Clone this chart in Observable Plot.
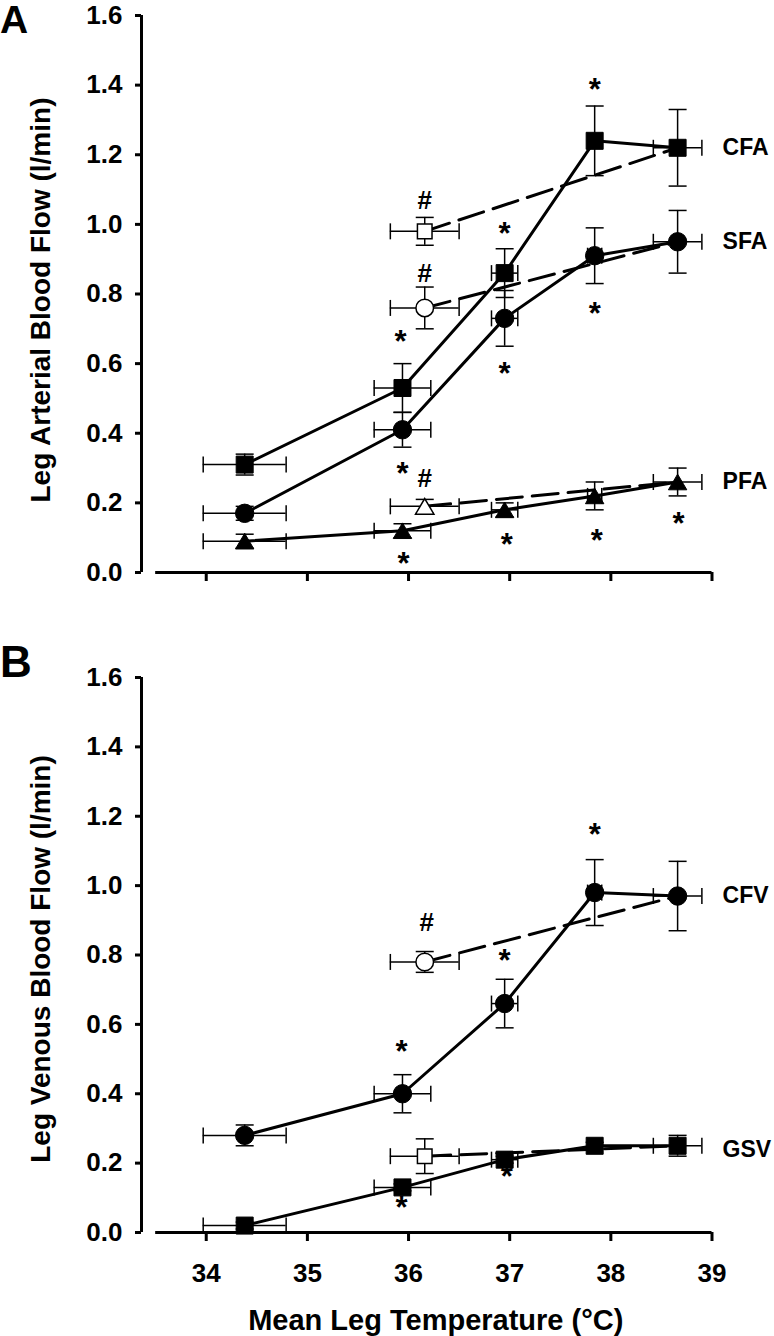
<!DOCTYPE html>
<html><head><meta charset="utf-8">
<script src="https://cdn.jsdelivr.net/npm/d3@7"></script>
<script src="https://cdn.jsdelivr.net/npm/@observablehq/plot@0.6"></script>
<style>
body{margin:0;background:#fff;}
#fig{position:relative;width:774px;height:1336px;background:#fff;}
#fig svg{display:block;}
.letter{position:absolute;left:0;font-family:"Liberation Sans",Arial,sans-serif;font-weight:bold;line-height:1;color:#000;}
</style></head><body>
<div id="fig">
  <div id="pa"></div>
  <div id="pb"></div>
  <div class="letter" style="top:0px;font-size:39px">A</div>
  <div class="letter" style="top:640px;font-size:44px">B</div>
</div>
<script>
// ---------- data ----------
const temps    = [34.38, 35.94, 36.95, 37.84, 38.66];   // mean leg temperature (°C)
const tempErr  = [0.41, 0.28, 0.13, 0.07, 0.24];
const openTemp = 36.16, openTempErr = 0.34;              // open-symbol condition

const cfa = [0.31, 0.53, 0.86, 1.24, 1.22], cfaErr = [0.03, 0.07, 0.07, 0.10, 0.11];
const cfaOpen = 0.98, cfaOpenErr = 0.04;
const sfa = [0.17, 0.41, 0.73, 0.91, 0.95], sfaErr = [0.02, 0.05, 0.08, 0.08, 0.09];
const sfaOpen = 0.76, sfaOpenErr = 0.06;
const pfa = [0.09, 0.12, 0.18, 0.22, 0.26], pfaErr = [0.02, 0.02, 0.02, 0.04, 0.04];
const pfaOpen = 0.19, pfaOpenErr = 0.02;

const cfv = [0.28, 0.40, 0.66, 0.98, 0.97], cfvErr = [0.03, 0.055, 0.07, 0.095, 0.10];
const cfvOpen = 0.78, cfvOpenErr = 0.03;
const gsv = [0.02, 0.13, 0.21, 0.25, 0.25], gsvErr = [0.01, 0.01, 0.01, 0.01, 0.03];
const gsvOpen = 0.22, gsvOpenErr = 0.05;

const xTicks = [34, 35, 36, 37, 38, 39];
const yTicks = [0, 0.2, 0.4, 0.6, 0.8, 1.0, 1.2, 1.4, 1.6];
const xDomain = [33.36, 39];
const xAxisStart = 33.5;
const yDomain = [0, 1.6];

const annotA = [
  {x: 37.84, y: 1.405, s: "*"}, {x: 36.16, y: 1.069, s: "#"}, {x: 36.95, y: 0.991, s: "*"},
  {x: 36.16, y: 0.859, s: "#"}, {x: 37.84, y: 0.761, s: "*"}, {x: 35.92, y: 0.681, s: "*"},
  {x: 36.95, y: 0.589, s: "*"}, {x: 35.94, y: 0.302, s: "*"}, {x: 36.16, y: 0.270, s: "#"},
  {x: 38.67, y: 0.158, s: "*"}, {x: 37.86, y: 0.109, s: "*"}, {x: 36.97, y: 0.098, s: "*"},
  {x: 35.95, y: 0.043, s: "*"}
];
const annotB = [
  {x: 36.18, y: 0.894, s: "#"}, {x: 37.84, y: 1.167, s: "*"}, {x: 36.95, y: 0.804, s: "*"},
  {x: 35.93, y: 0.539, s: "*"}, {x: 35.93, y: 0.092, s: "*"}, {x: 36.97, y: 0.179, s: "*"}
];

// ---------- symbols ----------
const rOf = s => Math.sqrt(s / Math.PI);
const hcap = {draw(c, s) { const r = rOf(s); c.moveTo(-r, 0); c.lineTo(r, 0); }};
const vcap = {draw(c, s) { const r = rOf(s); c.moveTo(0, -r); c.lineTo(0, r); }};
const sq   = {draw(c, s) { const r = rOf(s); c.rect(-r, -r, 2 * r, 2 * r); }};
const tri  = {draw(c, s) { const r = rOf(s); c.moveTo(0, -0.85 * r); c.lineTo(r, 0.85 * r); c.lineTo(-r, 0.85 * r); c.closePath(); }};
const shapes = {
  circle: {sym: "circle", r: 9.2, ro: 8.8},
  square: {sym: sq, r: 8.5, ro: 7.3},
  triangle: {sym: tri, r: 9.2, ro: 9.2}
};

const FONT = '"Liberation Sans", Arial, sans-serif';

function seriesMarks(s) {
  const pts = temps.map((t, i) => ({x: t, xe: tempErr[i], y: s.values[i], ye: s.errs[i]}));
  const open = {x: openTemp, xe: openTempErr, y: s.open, ye: s.openErr};
  const all = [...pts, open];
  const last = pts[pts.length - 1];
  const sh = shapes[s.shape];
  return {
    err: [
      Plot.ruleX(all, {x: "x", y1: d => d.y - d.ye, y2: d => d.y + d.ye, stroke: "black", strokeWidth: 1.5}),
      Plot.ruleY(all, {y: "y", x1: d => d.x - d.xe, x2: d => d.x + d.xe, stroke: "black", strokeWidth: 1.5}),
      Plot.dot(all, {x: "x", y: d => d.y + d.ye, symbol: hcap, r: 9, stroke: "black", strokeWidth: 1.5, fill: "none"}),
      Plot.dot(all, {x: "x", y: d => d.y - d.ye, symbol: hcap, r: 9, stroke: "black", strokeWidth: 1.5, fill: "none"}),
      Plot.dot(all, {x: d => d.x - d.xe, y: "y", symbol: vcap, r: 8, stroke: "black", strokeWidth: 1.5, fill: "none"}),
      Plot.dot(all, {x: d => d.x + d.xe, y: "y", symbol: vcap, r: 8, stroke: "black", strokeWidth: 1.5, fill: "none"})
    ],
    lines: [
      Plot.line([open, last], {x: "x", y: "y", stroke: "black", strokeWidth: 3, strokeDasharray: "26,10"}),
      Plot.line(pts, {x: "x", y: "y", stroke: "black", strokeWidth: 3})
    ],
    dots: [
      Plot.dot(pts, {x: "x", y: "y", symbol: sh.sym, r: sh.r, fill: "black", stroke: "black", strokeWidth: 1}),
      Plot.dot([open], {x: "x", y: "y", symbol: sh.sym, r: sh.ro, fill: "white", stroke: "black", strokeWidth: 1.5}),
      Plot.text([last], {x: "x", y: "y", text: () => s.name, dx: 45, dy: s.labelDy || 0, textAnchor: "start",
        lineAnchor: "middle", fontSize: 23, fontWeight: "bold"})
    ]
  };
}

function panel({series, annot, height, marginTop, marginBottom, tickLabels, yLabel, yLabelDy, xLabel}) {
  const parts = series.map(seriesMarks);
  const marks = [
    ...parts.flatMap(p => p.err),
    Plot.text(annot.filter(d => d.s === "*"), {x: "x", y: "y", text: "s", fontSize: 31, fontWeight: "bold", dy: 7, lineAnchor: "middle"}),
    Plot.text(annot.filter(d => d.s === "#"), {x: "x", y: "y", text: "s", fontSize: 26, fontWeight: "bold", lineAnchor: "middle"}),
    ...parts.flatMap(p => p.lines),
    ...parts.flatMap(p => p.dots),
    // axes
    Plot.ruleX([xDomain[0]], {x: d => d, y1: yDomain[0], y2: yDomain[1], stroke: "black", strokeWidth: 3}),
    Plot.ruleY([0], {y: d => d, x1: xAxisStart, x2: xDomain[1], stroke: "black", strokeWidth: 3}),
    Plot.axisY({ticks: yTicks, tickSize: 6, tickPadding: 13, strokeWidth: 3, fontSize: 26, fontWeight: "bold",
      tickFormat: d3.format(".1f")}),
    Plot.axisX({ticks: xTicks, tickSize: 9, tickPadding: 22, strokeWidth: 3, fontSize: 26, fontWeight: "bold",
      tickFormat: tickLabels ? (d => String(d)) : (() => "")}),
    Plot.text([yLabel], {text: d => d, frameAnchor: "left", dx: -100, dy: yLabelDy || 0, rotate: -90, fontSize: 28,
      fontWeight: "bold", textAnchor: "middle", lineAnchor: "middle"})
  ];
  if (xLabel) marks.push(Plot.text([xLabel], {text: d => d, frameAnchor: "bottom", dx: 9, dy: 88, fontSize: 29,
    fontWeight: "bold", textAnchor: "middle", lineAnchor: "middle"}));
  return Plot.plot({
    width: 774, height, marginTop, marginBottom, marginLeft: 141, marginRight: 62.5,
    x: {domain: xDomain, label: null},
    y: {domain: yDomain, label: null},
    style: {fontFamily: FONT, fontWeight: "bold", background: "white", color: "black", overflow: "visible"},
    marks
  });
}

document.getElementById("pa").append(panel({
  series: [
    {name: "CFA", values: cfa, errs: cfaErr, open: cfaOpen, openErr: cfaOpenErr, shape: "square"},
    {name: "SFA", values: sfa, errs: sfaErr, open: sfaOpen, openErr: sfaOpenErr, shape: "circle"},
    {name: "PFA", values: pfa, errs: pfaErr, open: pfaOpen, openErr: pfaOpenErr, shape: "triangle"}
  ],
  annot: annotA, height: 620, marginTop: 15, marginBottom: 48, tickLabels: false,
  yLabel: "Leg Arterial Blood Flow (l/min)", yLabelDy: 6
}));
document.getElementById("pb").append(panel({
  series: [
    {name: "CFV", values: cfv, errs: cfvErr, open: cfvOpen, openErr: cfvOpenErr, shape: "circle"},
    {name: "GSV", values: gsv, errs: gsvErr, open: gsvOpen, openErr: gsvOpenErr, shape: "square", labelDy: 4}
  ],
  annot: annotB, height: 716, marginTop: 57, marginBottom: 104, tickLabels: true,
  yLabel: "Leg Venous Blood Flow (l/min)", yLabelDy: 4, xLabel: "Mean Leg Temperature (°C)"
}));
</script>
</body></html>
